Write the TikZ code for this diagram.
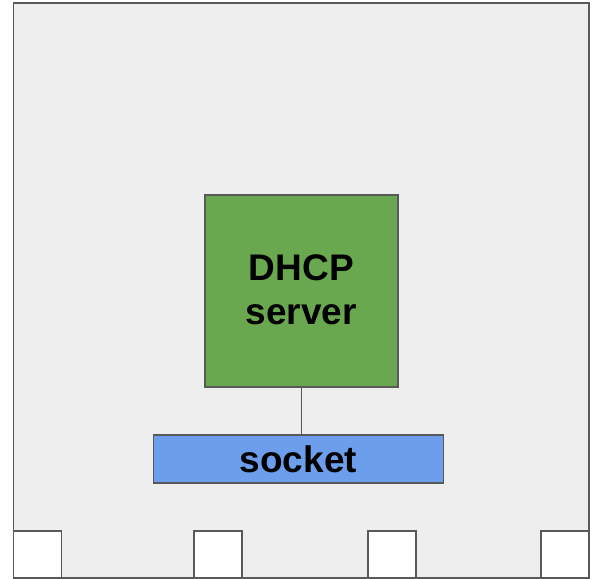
\documentclass[tikz,border=0pt]{standalone}
\usepackage{fontspec}
\setmainfont{Liberation Sans}
\definecolor{bgfill}{HTML}{EEEEEE}
\definecolor{edge}{HTML}{595959}
\definecolor{srvgreen}{HTML}{6AA84F}
\definecolor{sockblue}{HTML}{6D9EEB}
\begin{document}
\begin{tikzpicture}[x=1pt,y=-1pt,
  box/.style={draw=edge,line width=1.6pt,inner sep=0pt,outer sep=0pt,anchor=north west},
  label/.style={font=\fontsize{37}{43.4}\selectfont\bfseries,align=center},
  port/.style={box,fill=white,minimum width=48pt,minimum height=47pt}]
\useasboundingbox (0,0) rectangle (598,579);
\node[box,line width=1.9pt,fill=bgfill,minimum width=575.5pt,minimum height=575pt] (host) at (13.5,3) {};
\node[box,fill=srvgreen,minimum width=192.7pt,minimum height=192pt] (dhcp) at (205,194.7) {};
\node[label] (dhcptxt) at ([yshift=1pt]dhcp.center) {DHCP\\server};
\node[box,fill=sockblue,minimum width=290pt,minimum height=47.7pt] (socket) at (153.3,435) {};
\node[label,anchor=base] (socktxt) at ([yshift=-13.5pt]socket.center) {socket};
\draw[edge,line width=1.4pt] (dhcp.south) -- (dhcp.south |- socket.north);
\node[port] (p1) at (13.5,531) {};
\node[port] (p2) at (194,531) {};
\node[port] (p3) at (367.7,531) {};
\node[port] (p4) at (541,531) {};
\end{tikzpicture}
\end{document}
